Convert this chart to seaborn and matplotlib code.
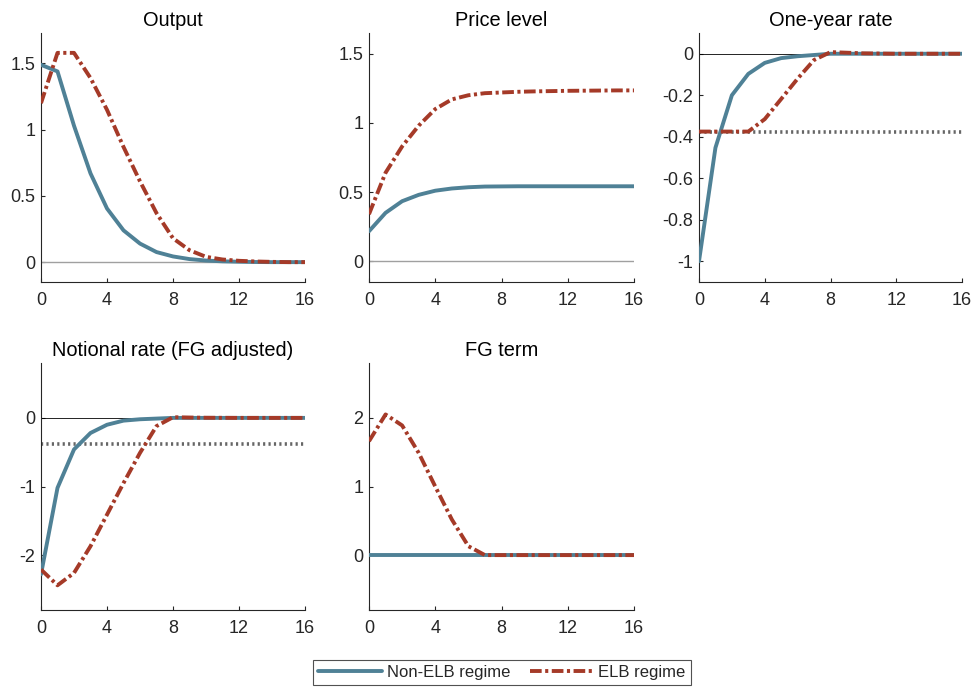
"""
Impulse responses under the ELB and non-ELB regimes
"""

import numpy as np
import pandas as pd
import seaborn as sns
import matplotlib.pyplot as plt
from matplotlib.ticker import FormatStrFormatter
from matplotlib.lines import Line2D

# horizon (quarters)
horizon = list(range(17))

# Output
output_nonelb = [1.49, 1.44, 1.03, 0.67, 0.405, 0.24, 0.14, 0.076, 0.043, 0.023, 0.012,
                 0.006, 0.003, 0.001, 0.0, 0.0, 0.0]
output_elb = [1.20, 1.58, 1.58, 1.39, 1.15, 0.87, 0.61, 0.37, 0.18, 0.09, 0.04,
              0.02, 0.01, 0.005, 0.002, 0.0, 0.0]

# Price level
price_nonelb = [0.217, 0.35, 0.434, 0.48, 0.51, 0.526, 0.535, 0.54, 0.541, 0.542, 0.542,
                0.542, 0.542, 0.542, 0.542, 0.542, 0.542]
price_elb = [0.34, 0.64, 0.83, 0.98, 1.10, 1.17, 1.20, 1.215, 1.22, 1.225, 1.228,
             1.23, 1.232, 1.233, 1.234, 1.235, 1.235]

# One-year rate
oneyear_nonelb = [-1.0, -0.453, -0.20, -0.097, -0.044, -0.021, -0.012, -0.006, 0.0, 0.0, 0.0,
                  0.0, 0.0, 0.0, 0.0, 0.0, 0.0]
oneyear_elb = [-0.375, -0.375, -0.375, -0.375, -0.315, -0.218, -0.12, -0.03, 0.008, 0.005, 0.002,
               0.001, 0.0, 0.0, 0.0, 0.0, 0.0]

# Notional rate (FG adjusted)
notional_nonelb = [-2.28, -1.02, -0.46, -0.22, -0.10, -0.04, -0.02, -0.01, 0.0, 0.0, 0.0,
                   0.0, 0.0, 0.0, 0.0, 0.0, 0.0]
notional_elb = [-2.21, -2.44, -2.26, -1.87, -1.41, -0.95, -0.51, -0.12, 0.01, 0.005, 0.002,
                0.001, 0.0, 0.0, 0.0, 0.0, 0.0]

# FG term
fg_nonelb = [0.0] * 17
fg_elb = [1.66, 2.05, 1.89, 1.49, 1.0, 0.52, 0.13, 0.0, 0.0, 0.0, 0.0,
          0.0, 0.0, 0.0, 0.0, 0.0, 0.0]

elb_bound = -0.375

titles = ["Output", "Price level", "One-year rate", "Notional rate (FG adjusted)", "FG term"]
regimes = ["Non-ELB regime", "ELB regime"]


def make_frame(nonelb, elb):
    """long table for one panel"""
    return pd.DataFrame({
        "h": horizon * 2,
        "value": list(nonelb) + list(elb),
        "regime": [regimes[0]] * len(nonelb) + [regimes[1]] * len(elb),
    })


if __name__ == "__main__":
    sns.set_theme(style="ticks")
    plt.rcParams["font.family"] = ["Liberation Sans", "DejaVu Sans"]
    plt.rcParams["axes.unicode_minus"] = False

    blue = "#4f8196"
    red = "#a53a28"
    palette = {regimes[0]: blue, regimes[1]: red}
    dashes = {regimes[0]: "", regimes[1]: (3.0, 0.9, 0.8, 0.9)}

    panels = [
        (output_nonelb, output_elb, (-0.15, 1.73), [0, 0.5, 1, 1.5], "grey", False),
        (price_nonelb, price_elb, (-0.15, 1.65), [0, 0.5, 1, 1.5], "grey", False),
        (oneyear_nonelb, oneyear_elb, (-1.1, 0.1), [-1, -0.8, -0.6, -0.4, -0.2, 0], "black", True),
        (notional_nonelb, notional_elb, (-2.8, 0.8), [-2, -1, 0], "black", True),
        (fg_nonelb, fg_elb, (-0.8, 2.8), [0, 1, 2], "grey", False),
    ]

    fig = plt.figure(figsize=(9.76, 6.88), dpi=100)
    W, H = 976, 688
    lefts = [41, 369, 699]
    widths = [264, 265, 263]
    rows = [(33, 282), (363, 610)]

    for i, (nonelb, elb, ylim, yticks, zcol, bound) in enumerate(panels):
        r, c = divmod(i, 3)
        top, bot = rows[r]
        ax = fig.add_axes([lefts[c] / W, 1 - bot / H, widths[c] / W, (bot - top) / H])

        # reference lines
        if zcol == "grey":
            ax.axhline(0, color="#a0a0a0", lw=1.0, zorder=1)
        else:
            ax.axhline(0, color="black", lw=0.6, zorder=1)
        if bound:
            ax.axhline(elb_bound, color="#666666", lw=2.6, ls=(0, (0.6, 0.9)), zorder=2)

        sns.lineplot(data=make_frame(nonelb, elb), x="h", y="value", hue="regime",
                     style="regime", hue_order=regimes, style_order=regimes,
                     palette=palette, dashes=dashes, lw=2.8, legend=False, ax=ax,
                     zorder=3)

        ax.set_xlim(0, 16)
        ax.set_xticks([0, 4, 8, 12, 16])
        ax.set_ylim(*ylim)
        ax.set_yticks(yticks)
        ax.yaxis.set_major_formatter(FormatStrFormatter("%g"))
        ax.set_xlabel("")
        ax.set_ylabel("")
        ax.set_title(titles[i], fontsize=14.4, pad=5, color="black")
        sns.despine(ax=ax)
        for s in ["left", "bottom"]:
            ax.spines[s].set_color("#262626")
            ax.spines[s].set_linewidth(0.8)
        ax.tick_params(direction="in", length=3, width=0.8, colors="#262626",
                       labelsize=13)
        ax.tick_params(axis="x", pad=7)
        ax.tick_params(axis="y", pad=4)

    # figure legend
    handles = [Line2D([], [], color=blue, lw=2.8),
               Line2D([], [], color=red, lw=2.8, dashes=dashes[regimes[1]])]
    leg = fig.legend(handles, regimes, loc="center", bbox_to_anchor=(502 / W, 1 - 672 / H),
                     ncol=2, frameon=True, fancybox=False, edgecolor="#262626",
                     fontsize=12, handlelength=3.8, columnspacing=1.2,
                     handletextpad=0.3, borderpad=0.3)
    leg.get_frame().set_linewidth(0.8)

    plt.savefig("out.png", dpi=100)
